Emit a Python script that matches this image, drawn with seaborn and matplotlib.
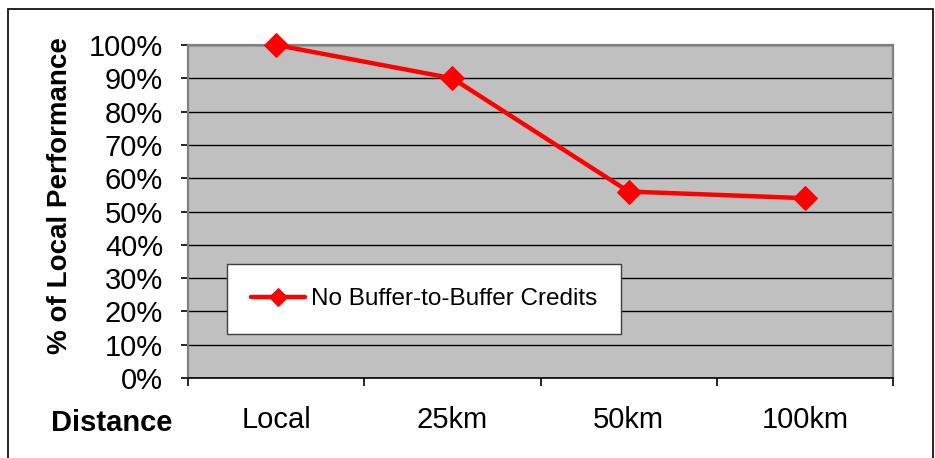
import matplotlib
matplotlib.use("Agg")
import matplotlib.pyplot as plt
import matplotlib.patches as mpatches
from matplotlib.ticker import FixedLocator, FuncFormatter
import pandas as pd
import seaborn as sns

# Relative throughput over distance
distances = ["Local", "25km", "50km", "100km"]
performance = [100, 90, 56, 54]
series_name = "No Buffer-to-Buffer Credits"
y_ticks = [0, 10, 20, 30, 40, 50, 60, 70, 80, 90, 100]

df = pd.DataFrame({"Distance": distances, "Performance": performance})

sns.set_style("white")
plt.rcParams["font.family"] = ["Liberation Sans", "DejaVu Sans"]
plt.rcParams.update({"text.color": "black", "xtick.color": "black",
                     "ytick.color": "black", "axes.labelcolor": "black"})

W, H = 935, 458
fig = plt.figure(figsize=(W / 100, H / 100), dpi=100)
ax = fig.add_axes([188 / W, 1 - 378 / H, (893 - 188) / W, (378 - 45) / H])
ax.set_facecolor("#C0C0C0")

sns.lineplot(data=df, x="Distance", y="Performance", ax=ax, sort=False,
             color="#FF0000", linewidth=3.2, marker="D", markersize=12,
             markeredgecolor="#FF0000", label=series_name, zorder=5, clip_on=False)

ax.set_xlim(-0.5, len(distances) - 0.5)
ax.set_ylim(0, 100)

# horizontal gridlines
ax.yaxis.set_major_locator(FixedLocator(y_ticks))
ax.yaxis.set_major_formatter(FuncFormatter(lambda v, p: f"{v:.0f}%"))
ax.grid(axis="y", color="black", linewidth=1.0)
ax.grid(axis="x", visible=False)
ax.set_axisbelow(True)

# category labels centred, tick marks between categories
ax.set_xticks(range(len(distances)))
ax.set_xticklabels(distances)
ax.set_xticks([i - 0.5 for i in range(len(distances) + 1)], minor=True)
ax.tick_params(axis="x", which="major", length=0, pad=20, labelsize=21, labelcolor="black")
ax.tick_params(axis="x", which="minor", length=6, width=1.2, color="black", direction="out", bottom=True)
ax.tick_params(axis="y", which="major", length=5, width=1.2, color="black", direction="out",
               left=True, pad=13, labelsize=21, labelcolor="black")

for side in ("left", "top", "right"):
    ax.spines[side].set_color("#808080")
    ax.spines[side].set_linewidth(1.6)
ax.spines["bottom"].set_color("black")
ax.spines["bottom"].set_linewidth(1.2)

ax.set_xlabel("")
ax.set_ylabel("")

leg = ax.legend(loc="center", bbox_to_anchor=(0.335, 0.237), frameon=True, fancybox=False,
                framealpha=1, edgecolor="#404040", fontsize=17.5, handlelength=2.2,
                handletextpad=0.25, borderpad=1.0, markerscale=0.75)
leg.get_frame().set_linewidth(1.0)
leg.get_frame().set_facecolor("white")
for t in leg.get_texts():
    t.set_color("black")

fig.text(60 / W, 1 - 196 / H, "% of Local Performance", rotation=90, ha="center", va="center",
         fontsize=20, fontweight="bold", color="black")
fig.text(112 / W, 1 - 423 / H, "Distance", ha="center", va="center",
         fontsize=21, fontweight="bold", color="black")

# outer chart border
fig.patches.append(mpatches.Rectangle((8 / W, -0.02), (933 - 8) / W, 1.02 - 9 / H,
                                      transform=fig.transFigure, fill=False,
                                      edgecolor="black", linewidth=1.2))

fig.savefig("out.png", dpi=100)
